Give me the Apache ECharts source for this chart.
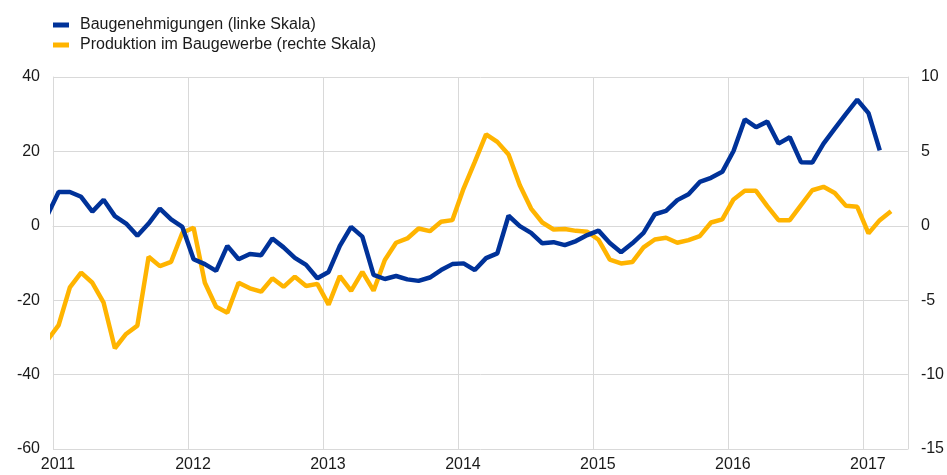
<!DOCTYPE html>
<html>
<head>
<meta charset="utf-8">
<script src="https://cdn.jsdelivr.net/npm/echarts@6/dist/echarts.min.js"></script>
<style>
  html, body { margin: 0; padding: 0; background: #fff; }
  #chart { width: 947px; height: 475px; }
</style>
</head>
<body>
<div id="chart"></div>
<script>
// monthly observations, Dec 2010 .. Mar 2017 (Dec 2010 is only used so the line enters from the left edge)
const startYear = 2010, startMonth = 12;
const yearTicks = ['2011', '2012', '2013', '2014', '2015', '2016', '2017'];

// Baugenehmigungen, linke Skala
const permits = [
  2.8,
  9.1, 9.1, 7.8, 3.8, 7.0, 2.6, 0.6, -2.7, 0.6, 4.6, 1.7, -0.3,
  -9.0, -10.3, -12.1, -5.4, -9.0, -7.6, -7.9, -3.4, -5.8, -8.6, -10.5, -14.1,
  -12.4, -5.4, -0.3, -2.9, -13.2, -14.3, -13.5, -14.4, -14.8, -13.9, -11.9, -10.3,
  -10.1, -11.9, -8.7, -7.4, 2.7, -0.1, -1.9, -4.7, -4.4, -5.2, -4.1, -2.5,
  -1.3, -4.6, -7.1, -4.7, -1.9, 3.1, 4.0, 6.9, 8.5, 11.8, 12.9, 14.5,
  20.1, 28.6, 26.5, 28.0, 22.1, 23.8, 17.1, 17.0, 22.1, 26.1, 30.1, 33.9,
  30.3, 20.3
];

// Produktion im Baugewerbe, rechte Skala
const production = [
  -7.7,
  -6.67, -4.14, -3.15, -3.83, -5.17, -8.23, -7.27, -6.71, -2.08, -2.71, -2.42, -0.47,
  -0.13, -3.83, -5.44, -5.84, -3.83, -4.2, -4.43, -3.53, -4.1, -3.42, -4.05, -3.9,
  -5.3, -3.38, -4.38, -3.1, -4.36, -2.3, -1.14, -0.85, -0.18, -0.36, 0.27, 0.38,
  2.5, 4.3, 6.15, 5.64, 4.79, 2.73, 1.16, 0.22, -0.25, -0.22, -0.34, -0.4,
  -0.94, -2.28, -2.53, -2.44, -1.45, -0.92, -0.8, -1.14, -0.96, -0.69, 0.22, 0.43,
  1.77, 2.35, 2.35, 1.32, 0.38, 0.38, 1.39, 2.39, 2.62, 2.21, 1.34, 1.28,
  -0.51, 0.38, 0.98
];

const leftTicks = [-60, -40, -20, 0, 20, 40];
const rightTicks = [-15, -10, -5, 0, 5, 10];

// x in months since Jan 2011, observations sit mid-month
function toPoints(values) {
  return values.map((v, i) => {
    const m = (startYear - 2011) * 12 + (startMonth - 1) + i;
    return [m + 0.5, v];
  });
}

const chart = echarts.init(document.getElementById('chart'));
const font = 'Liberation Sans, Arial, sans-serif';
const gridColor = '#d9d9d9';
const textColor = '#1a1a1a';

chart.setOption({
  animation: false,
  grid: { left: 53, right: 38, top: 77, bottom: 26 },
  legend: {
    orient: 'vertical',
    left: 48,
    top: 12,
    itemWidth: 16,
    itemHeight: 5,
    itemGap: 4,
    icon: 'rect',
    textStyle: { fontFamily: font, fontSize: 16, color: textColor, padding: [0, 0, 0, 6] },
    data: ['Baugenehmigungen (linke Skala)', 'Produktion im Baugewerbe (rechte Skala)']
  },
  xAxis: {
    type: 'value',
    min: 0,
    max: (yearTicks.length - 1) * 12 + 4,
    interval: 12,
    axisLine: { show: true, lineStyle: { color: gridColor } },
    axisTick: { show: false },
    splitLine: { show: true, lineStyle: { color: gridColor } },
    axisLabel: {
      fontFamily: font, fontSize: 16, color: textColor, margin: 8,
      padding: [0, 0, 0, 10],
      showMaxLabel: false,
      formatter: v => (v % 12 === 0 ? yearTicks[v / 12] : '')
    }
  },
  yAxis: [
    {
      type: 'value',
      min: leftTicks[0],
      max: leftTicks[leftTicks.length - 1],
      interval: 20,
      axisLine: { show: true, lineStyle: { color: gridColor } },
      axisTick: { show: false },
      splitLine: { show: true, lineStyle: { color: gridColor } },
      axisLabel: { fontFamily: font, fontSize: 16, color: textColor, margin: 13 }
    },
    {
      type: 'value',
      min: rightTicks[0],
      max: rightTicks[rightTicks.length - 1],
      interval: 5,
      axisLine: { show: true, lineStyle: { color: gridColor } },
      axisTick: { show: false },
      splitLine: { show: false },
      axisLabel: { fontFamily: font, fontSize: 16, color: textColor, margin: 13 }
    }
  ],
  series: [
    {
      name: 'Baugenehmigungen (linke Skala)',
      type: 'line',
      yAxisIndex: 0,
      data: toPoints(permits),
      showSymbol: false,
      clip: true,
      color: '#003299',
      lineStyle: { width: 4.5, color: '#003299' },
      z: 3
    },
    {
      name: 'Produktion im Baugewerbe (rechte Skala)',
      type: 'line',
      yAxisIndex: 1,
      data: toPoints(production),
      showSymbol: false,
      clip: true,
      color: '#ffb400',
      lineStyle: { width: 4.5, color: '#ffb400' },
      z: 2
    }
  ]
});
</script>
</body>
</html>
